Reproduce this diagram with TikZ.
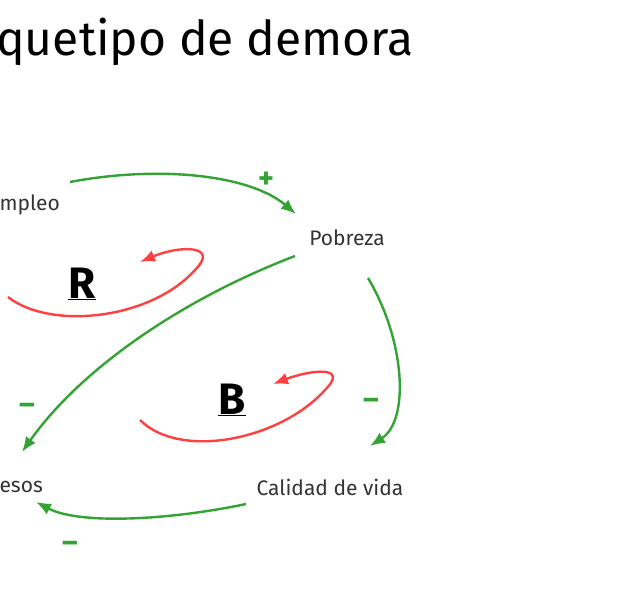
\documentclass[tikz,border=0pt]{standalone}
\usepackage{fontspec}
\setmainfont{Fira Sans}
\usetikzlibrary{arrows.meta}
\begin{document}
\begin{tikzpicture}[x=1pt,y=-1pt,
  grn/.style={draw=green!55!black!80, line width=2.4pt, -{Latex[length=15pt,width=12pt]}},
  rd/.style={draw=red!75, line width=2.4pt, -{Latex[length=15pt,width=12pt]}},
  lbl/.style={font=\fontsize{21}{24}\selectfont, text=black!80},
  sgn/.style={font=\fontsize{30}{30}\selectfont\bfseries, text=green!55!black!80},
  loop/.style={font=\fontsize{44}{44}\selectfont\bfseries}]
\useasboundingbox (0,0) rectangle (636,600);
\node[anchor=west, font=\fontsize{48}{54}\selectfont, inner sep=0pt] (t) at (-4,42) {quetipo de demora};
\node[lbl, anchor=west] (em) at (-4,205) {mpleo};
\node[lbl] (po) at (347,238) {Pobreza};
\node[lbl] (cv) at (330,487) {Calidad de vida};
\node[lbl, anchor=west] (eg) at (-4,487) {esos};
\coordinate (a1) at (70,182); \coordinate (a2) at (296,214);
\draw[grn] (a1) .. controls (160,165) and (250,175) .. (a2);
\node[sgn] (p1) at (266,180) {+};
\coordinate (b1) at (295,256); \coordinate (b2) at (22,452);
\draw[grn] (b1) .. controls (180,300) and (80,370) .. (b2);
\node[sgn] (m1) at (27,409) {–};
\coordinate (c1) at (368,278); \coordinate (c2) at (370,446);
\draw[grn] (c1) .. controls (405,340) and (410,420) .. (c2);
\node[sgn] (m2) at (371,404) {–};
\coordinate (d1) at (246,504); \coordinate (d2) at (36,502);
\draw[grn] (d1) .. controls (170,520) and (80,525) .. (d2);
\node[sgn] (m3) at (70,547) {–};
\coordinate (r1) at (8,297); \coordinate (r2) at (140,262);
\draw[rd] (r1) .. controls (50,330) and (150,320) .. (195,270) .. controls (220,245) and (180,245) .. (r2);
\coordinate (s1) at (140,420); \coordinate (s2) at (273,384);
\draw[rd] (s1) .. controls (180,460) and (280,440) .. (325,390) .. controls (350,365) and (310,370) .. (s2);
\node[loop] (R) at (82,284) {\underline{R}};
\node[loop] (B) at (232,400) {\underline{B}};
\end{tikzpicture}
\end{document}
